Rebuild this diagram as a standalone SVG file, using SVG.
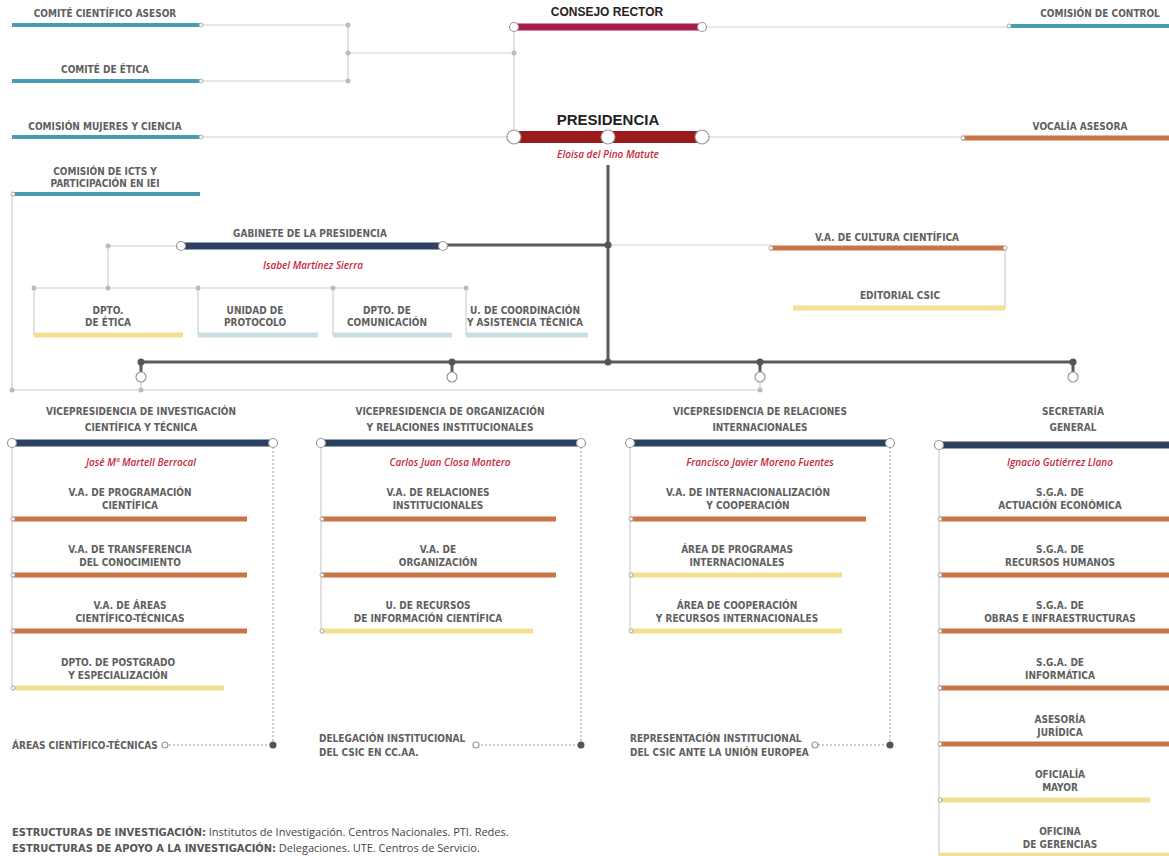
<svg xmlns="http://www.w3.org/2000/svg" width="1169" height="856" viewBox="0 0 1169 856">
<style>
.lb{font-family:"Liberation Sans Narrow","DejaVu Sans Condensed","Liberation Sans",sans-serif;font-weight:bold;font-size:10px;fill:#606060;text-anchor:middle}
.ll{text-anchor:start}
.nm{font-family:"Open Sans","Liberation Sans",sans-serif;font-style:italic;font-weight:600;font-size:10px;fill:#c8283c;text-anchor:middle}
.tl{font-family:"Liberation Sans","Open Sans",sans-serif;font-weight:bold;fill:#222;text-anchor:middle}
.teal{stroke:#4b9cb1;stroke-width:4}
.org{stroke:#c97548;stroke-width:5}
.yel{stroke:#f3df92;stroke-width:5}
.lbl{stroke:#c9dfe4;stroke-width:5}
.navy{stroke:#2c405f;stroke-width:7}
.thin{stroke:#cfcfcf;stroke-width:1.2;fill:none}
.thick{stroke:#5a5a5a;stroke-width:3;fill:none}
.dot{stroke:#999;stroke-width:1;stroke-dasharray:2 2;fill:none}
.oc{fill:#fff;stroke:#999;stroke-width:1.2}
.sc{fill:#fff;stroke:#aaa;stroke-width:1}
.gd{fill:#bbb}
.dd{fill:#555}
.bt{font-family:"Open Sans","Liberation Sans",sans-serif;font-size:11px;fill:#444}
.bb{font-family:"Liberation Sans Narrow","DejaVu Sans Condensed",sans-serif;font-weight:bold;fill:#555}
</style>
<rect width="1169" height="856" fill="#fff"/>
<g id="connectors">
<path class="thin" d="M201 25H348M201 81H348M348 25V81M348 53H514M514 27V137M702 27H1008M201 137H514M702 137H962M12 194V390H760"/>
<path class="thin" d="M181 246H108V288M34 288H466M34 288V335M198 288V335M333 288V335M466 288V335M608 245H770M1005 248V308"/>
<path class="thick" d="M608 165V362M443 245H608M141 362H1073M141 362V372M452 362V372M760 362V372M1073 362V372"/>
<path class="thin" d="M141 382V390M760 382V390"/>
<path class="thin" d="M12 443V688M321 443V631M630 443V631M939 445V856"/>
<path class="dot" d="M273 443V745H165M581 443V745H476M890 443V745H815"/>
<circle class="gd" cx="348" cy="25" r="2.5"/><circle class="gd" cx="348" cy="81" r="2.5"/><circle class="gd" cx="348" cy="53" r="2.5"/><circle class="gd" cx="514" cy="53" r="2.5"/>
<circle class="gd" cx="108" cy="246" r="2.5"/><circle class="gd" cx="34" cy="288" r="2.5"/><circle class="gd" cx="108" cy="288" r="2.5"/><circle class="gd" cx="198" cy="288" r="2.5"/><circle class="gd" cx="333" cy="288" r="2.5"/><circle class="gd" cx="466" cy="288" r="2.5"/>
<circle class="gd" cx="12" cy="390" r="2.5"/><circle class="gd" cx="141" cy="390" r="2.5"/><circle class="gd" cx="760" cy="390" r="2.5"/>
<circle class="dd" cx="608" cy="245" r="3.5"/><circle class="dd" cx="608" cy="362" r="3.5"/>
<circle class="dd" cx="141" cy="362" r="3.5"/><circle class="dd" cx="452" cy="362" r="3.5"/><circle class="dd" cx="760" cy="362" r="3.5"/><circle class="dd" cx="1073" cy="362" r="3.5"/>
<circle class="oc" cx="141" cy="377" r="5"/><circle class="oc" cx="452" cy="377" r="5"/><circle class="oc" cx="760" cy="377" r="5"/><circle class="oc" cx="1073" cy="377" r="5"/>
<circle class="oc" cx="165" cy="745" r="3"/><circle class="dd" cx="273" cy="745" r="3.5"/>
<circle class="oc" cx="476" cy="745" r="3"/><circle class="dd" cx="581" cy="745" r="3.5"/>
<circle class="oc" cx="815" cy="745" r="3"/><circle class="dd" cx="890" cy="745" r="3.5"/>
</g>
<g id="comite-cientifico"><text class="lb" x="105" y="17">COMITÉ CIENTÍFICO ASESOR</text><line class="teal" x1="12" y1="25" x2="200" y2="25"/><circle class="sc" cx="201" cy="25" r="2"/></g>
<g id="comite-etica"><text class="lb" x="105" y="73">COMITÉ DE ÉTICA</text><line class="teal" x1="12" y1="81" x2="200" y2="81"/><circle class="sc" cx="201" cy="81" r="2"/></g>
<g id="comision-mujeres"><text class="lb" x="105" y="130">COMISIÓN MUJERES Y CIENCIA</text><line class="teal" x1="12" y1="137" x2="200" y2="137"/><circle class="sc" cx="201" cy="137" r="2"/></g>
<g id="comision-icts"><text class="lb" x="105" y="175">COMISIÓN DE ICTS Y</text><text class="lb" x="105" y="187">PARTICIPACIÓN EN IEI</text><line class="teal" x1="12" y1="194" x2="200" y2="194"/><circle class="sc" cx="13" cy="194" r="2"/></g>
<g id="consejo-rector"><text class="tl" x="607" y="16" font-size="12">CONSEJO RECTOR</text><line stroke="#a81e48" stroke-width="7" x1="514" y1="27" x2="702" y2="27"/><circle class="oc" cx="514" cy="27" r="4.5"/><circle class="oc" cx="702" cy="27" r="4.5"/></g>
<g id="comision-control"><text class="lb" x="1100" y="17">COMISIÓN DE CONTROL</text><line class="teal" x1="1008" y1="26" x2="1169" y2="26"/><circle class="sc" cx="1009" cy="26" r="2"/></g>
<g id="presidencia"><text class="tl" x="608" y="125" font-size="15">PRESIDENCIA</text><line stroke="#9b1a1e" stroke-width="12" x1="514" y1="137" x2="702" y2="137"/><circle class="oc" cx="514" cy="137" r="7"/><circle class="oc" cx="608" cy="137" r="7"/><circle class="oc" cx="702" cy="137" r="7"/><text class="nm" x="608" y="158">Eloisa del Pino Matute</text></g>
<g id="vocalia"><text class="lb" x="1080" y="130">VOCALÍA ASESORA</text><line class="org" x1="962" y1="138" x2="1169" y2="138"/><circle class="sc" cx="963" cy="138" r="2"/></g>
<g id="gabinete"><text class="lb" x="310" y="237">GABINETE DE LA PRESIDENCIA</text><line class="navy" x1="181" y1="246" x2="443" y2="246"/><circle class="oc" cx="181" cy="246" r="4.5"/><circle class="oc" cx="443" cy="246" r="4.5"/><text class="nm" x="313" y="269">Isabel Martínez Sierra</text></g>
<g id="dpto-etica"><text class="lb" x="108" y="314">DPTO.</text><text class="lb" x="108" y="326">DE ÉTICA</text><line class="yel" x1="34" y1="335" x2="183" y2="335"/></g>
<g id="protocolo"><text class="lb" x="255" y="314">UNIDAD DE</text><text class="lb" x="255" y="326">PROTOCOLO</text><line class="lbl" x1="198" y1="335" x2="318" y2="335"/></g>
<g id="comunicacion"><text class="lb" x="387" y="314">DPTO. DE</text><text class="lb" x="387" y="326">COMUNICACIÓN</text><line class="lbl" x1="333" y1="335" x2="452" y2="335"/></g>
<g id="coordinacion"><text class="lb" x="525" y="314">U. DE COORDINACIÓN</text><text class="lb" x="525" y="326">Y ASISTENCIA TÉCNICA</text><line class="lbl" x1="466" y1="335" x2="588" y2="335"/></g>
<g id="cultura"><text class="lb" x="887" y="241">V.A. DE CULTURA CIENTÍFICA</text><line class="org" x1="770" y1="248" x2="1005" y2="248"/><circle class="sc" cx="771" cy="248" r="2"/><circle class="sc" cx="1005" cy="248" r="2"/></g>
<g id="editorial"><text class="lb" x="900" y="299">EDITORIAL CSIC</text><line class="yel" x1="793" y1="308" x2="1005" y2="308"/></g>
<g id="vp-investigacion"><text class="lb" x="141" y="415">VICEPRESIDENCIA DE INVESTIGACIÓN</text><text class="lb" x="141" y="431">CIENTÍFICA Y TÉCNICA</text><line class="navy" x1="12" y1="443" x2="273" y2="443"/><circle class="oc" cx="12" cy="443" r="4.5"/><circle class="oc" cx="273" cy="443" r="4.5"/><text class="nm" x="141" y="466">José Mª Martell Berrocal</text></g>
<g id="va-programacion"><text class="lb" x="130" y="496">V.A. DE PROGRAMACIÓN</text><text class="lb" x="130" y="509">CIENTÍFICA</text><line class="org" x1="12" y1="519" x2="247" y2="519"/><circle class="sc" cx="13" cy="519" r="2"/></g>
<g id="va-transferencia"><text class="lb" x="130" y="553">V.A. DE TRANSFERENCIA</text><text class="lb" x="130" y="566">DEL CONOCIMIENTO</text><line class="org" x1="12" y1="575" x2="247" y2="575"/><circle class="sc" cx="13" cy="575" r="2"/></g>
<g id="va-areas"><text class="lb" x="130" y="609">V.A. DE ÁREAS</text><text class="lb" x="130" y="622">CIENTÍFICO-TÉCNICAS</text><line class="org" x1="12" y1="631" x2="247" y2="631"/><circle class="sc" cx="13" cy="631" r="2"/></g>
<g id="postgrado"><text class="lb" x="118" y="666">DPTO. DE POSTGRADO</text><text class="lb" x="118" y="679">Y ESPECIALIZACIÓN</text><line class="yel" x1="12" y1="688" x2="224" y2="688"/><circle class="sc" cx="13" cy="688" r="2"/></g>
<g id="areas-ct"><text class="lb ll" x="12" y="749">ÁREAS CIENTÍFICO-TÉCNICAS</text></g>
<g id="vp-organizacion"><text class="lb" x="450" y="415">VICEPRESIDENCIA DE ORGANIZACIÓN</text><text class="lb" x="450" y="431">Y RELACIONES INSTITUCIONALES</text><line class="navy" x1="321" y1="443" x2="581" y2="443"/><circle class="oc" cx="321" cy="443" r="4.5"/><circle class="oc" cx="581" cy="443" r="4.5"/><text class="nm" x="450" y="466">Carlos Juan Closa Montero</text></g>
<g id="va-relaciones"><text class="lb" x="438" y="496">V.A. DE RELACIONES</text><text class="lb" x="438" y="509">INSTITUCIONALES</text><line class="org" x1="321" y1="519" x2="556" y2="519"/><circle class="sc" cx="322" cy="519" r="2"/></g>
<g id="va-organizacion"><text class="lb" x="438" y="553">V.A. DE</text><text class="lb" x="438" y="566">ORGANIZACIÓN</text><line class="org" x1="321" y1="575" x2="556" y2="575"/><circle class="sc" cx="322" cy="575" r="2"/></g>
<g id="u-recursos"><text class="lb" x="428" y="609">U. DE RECURSOS</text><text class="lb" x="428" y="622">DE INFORMACIÓN CIENTÍFICA</text><line class="yel" x1="321" y1="631" x2="533" y2="631"/><circle class="sc" cx="322" cy="631" r="2"/></g>
<g id="delegacion"><text class="lb ll" x="319" y="742">DELEGACIÓN INSTITUCIONAL</text><text class="lb ll" x="319" y="756">DEL CSIC EN CC.AA.</text></g>
<g id="vp-internacionales"><text class="lb" x="760" y="415">VICEPRESIDENCIA DE RELACIONES</text><text class="lb" x="760" y="431">INTERNACIONALES</text><line class="navy" x1="630" y1="443" x2="890" y2="443"/><circle class="oc" cx="630" cy="443" r="4.5"/><circle class="oc" cx="890" cy="443" r="4.5"/><text class="nm" x="760" y="466">Francisco Javier Moreno Fuentes</text></g>
<g id="va-internacionalizacion"><text class="lb" x="748" y="496">V.A. DE INTERNACIONALIZACIÓN</text><text class="lb" x="748" y="509">Y COOPERACIÓN</text><line class="org" x1="630" y1="519" x2="866" y2="519"/><circle class="sc" cx="631" cy="519" r="2"/></g>
<g id="area-programas"><text class="lb" x="737" y="553">ÁREA DE PROGRAMAS</text><text class="lb" x="737" y="566">INTERNACIONALES</text><line class="yel" x1="630" y1="575" x2="842" y2="575"/><circle class="sc" cx="631" cy="575" r="2"/></g>
<g id="area-cooperacion"><text class="lb" x="737" y="609">ÁREA DE COOPERACIÓN</text><text class="lb" x="737" y="622">Y RECURSOS INTERNACIONALES</text><line class="yel" x1="630" y1="631" x2="842" y2="631"/><circle class="sc" cx="631" cy="631" r="2"/></g>
<g id="representacion"><text class="lb ll" x="630" y="742">REPRESENTACIÓN INSTITUCIONAL</text><text class="lb ll" x="630" y="756">DEL CSIC ANTE LA UNIÓN EUROPEA</text></g>
<g id="secretaria"><text class="lb" x="1073" y="415">SECRETARÍA</text><text class="lb" x="1073" y="431">GENERAL</text><line class="navy" x1="939" y1="445" x2="1169" y2="445"/><circle class="oc" cx="939" cy="445" r="4.5"/><text class="nm" x="1060" y="466">Ignacio Gutiérrez Llano</text></g>
<g id="sga-economica"><text class="lb" x="1060" y="496">S.G.A. DE</text><text class="lb" x="1060" y="509">ACTUACIÓN ECONÓMICA</text><line class="org" x1="939" y1="519" x2="1169" y2="519"/><circle class="sc" cx="940" cy="519" r="2"/></g>
<g id="sga-rrhh"><text class="lb" x="1060" y="553">S.G.A. DE</text><text class="lb" x="1060" y="566">RECURSOS HUMANOS</text><line class="org" x1="939" y1="575" x2="1169" y2="575"/><circle class="sc" cx="940" cy="575" r="2"/></g>
<g id="sga-obras"><text class="lb" x="1060" y="609">S.G.A. DE</text><text class="lb" x="1060" y="622">OBRAS E INFRAESTRUCTURAS</text><line class="org" x1="939" y1="631" x2="1169" y2="631"/><circle class="sc" cx="940" cy="631" r="2"/></g>
<g id="sga-informatica"><text class="lb" x="1060" y="666">S.G.A. DE</text><text class="lb" x="1060" y="679">INFORMÁTICA</text><line class="org" x1="939" y1="688" x2="1169" y2="688"/><circle class="sc" cx="940" cy="688" r="2"/></g>
<g id="asesoria"><text class="lb" x="1060" y="723">ASESORÍA</text><text class="lb" x="1060" y="736">JURÍDICA</text><line class="org" x1="939" y1="744" x2="1169" y2="744"/><circle class="sc" cx="940" cy="744" r="2"/></g>
<g id="oficialia"><text class="lb" x="1060" y="778">OFICIALÍA</text><text class="lb" x="1060" y="791">MAYOR</text><line class="yel" x1="939" y1="800" x2="1150" y2="800"/><circle class="sc" cx="940" cy="800" r="2"/></g>
<g id="gerencias"><text class="lb" x="1060" y="835">OFICINA</text><text class="lb" x="1060" y="848">DE GERENCIAS</text><line class="yel" x1="939" y1="855" x2="1169" y2="855"/></g>
<g id="notes">
<text class="bt" x="12" y="836"><tspan class="bb">ESTRUCTURAS DE INVESTIGACIÓN:</tspan> Institutos de Investigación. Centros Nacionales. PTI. Redes.</text>
<text class="bt" x="12" y="852" font-size="9.5"><tspan class="bb">ESTRUCTURAS DE APOYO A LA INVESTIGACIÓN:</tspan> Delegaciones. UTE. Centros de Servicio.</text>
</g>
</svg>
